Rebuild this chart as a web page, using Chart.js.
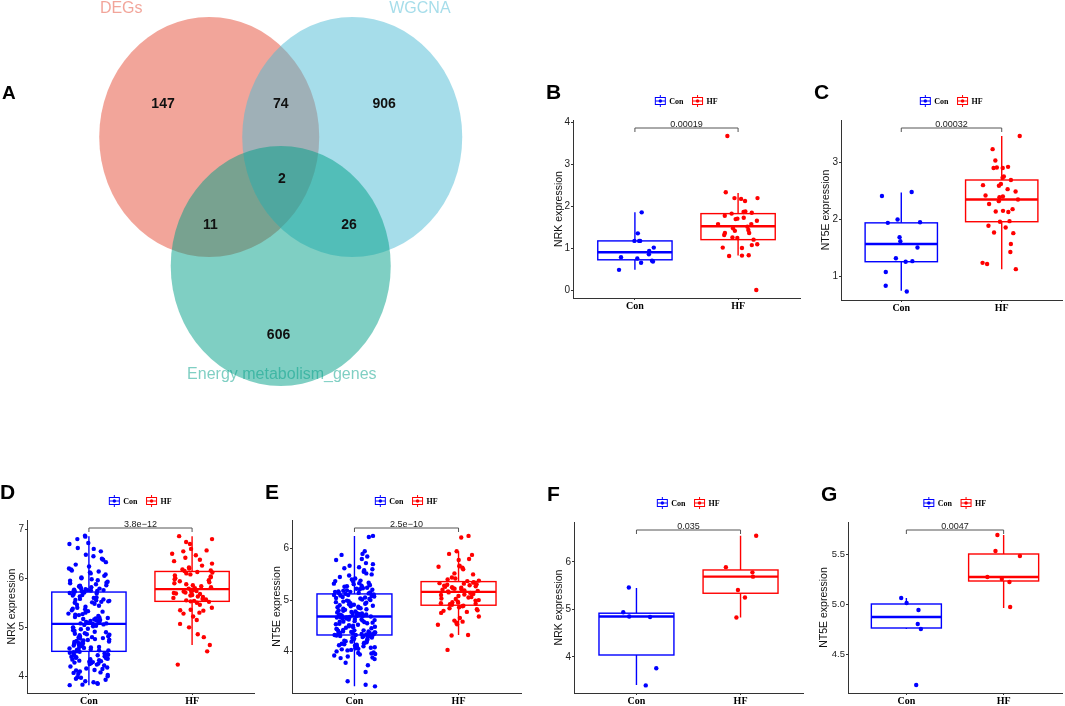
<!DOCTYPE html>
<html>
<head>
<meta charset="utf-8">
<script src="https://cdn.jsdelivr.net/npm/chart.js@4.4.1/dist/chart.umd.min.js"></script>
<style>
html, body { margin: 0; padding: 0; background: #fff; }
#wrap { position: relative; width: 1065px; height: 706px; overflow: hidden; background: #fff; }
canvas { position: absolute; }
</style>
</head>
<body>
<div id="wrap"></div>
<script>
// ---- Venn (panel A)
const vennSets = ['DEGs', 'WGCNA', 'Energy metabolism_genes'];
const vennCounts = [147, 74, 906, 11, 2, 26, 606];   // DEGs, DEGs&WGCNA, WGCNA, DEGs&Energy, all, WGCNA&Energy, Energy

// ---- box plots
const groups = ['Con', 'HF'];

// B: NRK, small set
const bCon = [1.85, 1.35, 1.17, 1.17, 1.17, 1.01, 0.93, 0.85, 0.78, 0.75, 0.70, 0.68, 0.65, 0.48];
const bHF = [3.67, 2.33, 2.19, 2.17, 2.19, 2.12, 1.86, 1.87, 1.82, 1.84, 1.72, 1.69, 1.70, 1.77, 1.65, 1.57, 1.57, 1.51,
  1.47, 1.41, 1.36, 1.36, 1.43, 1.31, 1.25, 1.20, 1.24, 1.09, 1.07, 1.01, 1.00, 0.81, 0.83, 0.82, 0.00];
const bConBox = [0.48, 0.72, 0.90, 1.17, 1.85];
const bHFBox = [0.82, 1.20, 1.52, 1.82, 2.31];
const bTicks = [0, 1, 2, 3, 4];

// C: NT5E, small set
const cCon = [2.48, 2.41, 2.00, 1.95, 1.94, 1.69, 1.62, 1.51, 1.32, 1.27, 1.26, 1.08, 0.84, 0.74];
const cHF = [3.46, 3.23, 3.03, 2.90, 2.90, 2.92, 2.91, 2.75, 2.73, 2.69, 2.62, 2.60, 2.59, 2.53, 2.49, 2.40, 2.42, 2.39,
  2.32, 2.35, 2.27, 2.18, 2.13, 2.15, 2.14, 1.97, 1.96, 1.89, 1.86, 1.77, 1.76, 1.57, 1.43, 1.24, 1.22, 1.13];
const cConBox = [0.75, 1.26, 1.57, 1.94, 2.47];
const cHFBox = [1.13, 1.96, 2.35, 2.69, 3.46];
const cTicks = [1, 2, 3];

// D: NRK, large set
const dCon = [6.87, 6.85, 6.80, 6.72, 6.70, 6.62, 6.60, 6.55, 6.48, 6.45, 6.40, 6.38, 6.33, 6.28, 6.24, 6.20, 6.18, 6.16,
  6.14, 6.12, 6.10, 6.08, 6.05, 6.02, 6.00, 5.98, 5.96, 5.95, 5.93, 5.91, 5.90, 5.88, 5.86, 5.85, 5.84, 5.83, 5.82, 5.81,
  5.80, 5.79, 5.78, 5.77, 5.76, 5.76, 5.75, 5.74, 5.74, 5.73, 5.73, 5.72,
  5.71, 5.70, 5.69, 5.68, 5.66, 5.65, 5.63, 5.61, 5.60, 5.58, 5.57, 5.56, 5.55, 5.54, 5.53, 5.52, 5.51, 5.50, 5.48, 5.46,
  5.44, 5.42, 5.40, 5.38, 5.37, 5.35, 5.33, 5.32, 5.30, 5.28, 5.27, 5.26, 5.25, 5.23, 5.21, 5.20, 5.19, 5.18, 5.17, 5.16,
  5.15, 5.14, 5.13, 5.12, 5.11, 5.10, 5.09, 5.08, 5.08, 5.07,
  5.06, 5.05, 5.03, 5.02, 5.00, 4.99, 4.97, 4.96, 4.94, 4.93, 4.91, 4.90, 4.88, 4.87, 4.86, 4.85, 4.84, 4.82, 4.81, 4.80,
  4.79, 4.78, 4.77, 4.76, 4.75, 4.74, 4.73, 4.72, 4.71, 4.70, 4.69, 4.68, 4.67, 4.66, 4.65, 4.64, 4.63, 4.62, 4.61, 4.60,
  4.59, 4.58, 4.57, 4.56, 4.55, 4.54, 4.53, 4.53, 4.52, 4.51,
  4.50, 4.49, 4.48, 4.47, 4.46, 4.45, 4.44, 4.43, 4.42, 4.41, 4.40, 4.39, 4.38, 4.37, 4.36, 4.35, 4.34, 4.33, 4.32, 4.31,
  4.30, 4.29, 4.28, 4.27, 4.26, 4.25, 4.24, 4.22, 4.20, 4.18, 4.16, 4.15, 4.13, 4.12, 4.10, 4.08, 4.07, 4.05, 4.03, 4.00,
  3.98, 3.97, 3.95, 3.93, 3.90, 3.88, 3.86, 3.85, 3.83, 3.82];
const dHF = [6.86, 6.80, 6.74, 6.70, 6.60, 6.57, 6.55, 6.50, 6.47, 6.42, 6.38, 6.35, 6.30, 6.26, 6.22, 6.20, 6.18, 6.16, 6.15,
  6.13, 6.12, 6.10, 6.08, 6.06, 6.04, 6.02, 6.00, 5.98, 5.96, 5.94, 5.92, 5.90, 5.88, 5.86, 5.84, 5.82, 5.80, 5.79,
  5.77, 5.76, 5.75, 5.74, 5.73, 5.72, 5.71, 5.70, 5.69, 5.68, 5.66, 5.65, 5.63, 5.62, 5.60, 5.58, 5.57, 5.55, 5.54,
  5.52, 5.50, 5.46, 5.40, 5.36, 5.35, 5.34, 5.30, 5.28, 5.22, 5.15, 5.07, 5.00, 4.86, 4.80, 4.64, 4.51, 4.24, 5.53];
const dConBox = [3.82, 4.51, 5.07, 5.72, 6.86];
const dHFBox = [4.64, 5.53, 5.78, 6.14, 6.86];
const dTicks = [4, 5, 6, 7];

// E: NT5E, large set
const eCon = [6.25, 6.23, 5.95, 5.90, 5.88, 5.85, 5.80, 5.78, 5.72, 5.70, 5.67, 5.64, 5.62, 5.60, 5.58, 5.55, 5.52, 5.50,
  5.48, 5.45, 5.42, 5.40, 5.38, 5.37, 5.36, 5.34, 5.33, 5.32, 5.31, 5.30, 5.29, 5.28, 5.27, 5.26, 5.25, 5.24, 5.23, 5.22,
  5.21, 5.20, 5.19, 5.18, 5.17, 5.16, 5.16, 5.15, 5.14, 5.14, 5.13, 5.12,
  5.11, 5.10, 5.10, 5.09, 5.08, 5.07, 5.06, 5.05, 5.04, 5.03, 5.02, 5.01, 5.00, 4.99, 4.98, 4.97, 4.96, 4.95, 4.94, 4.93,
  4.92, 4.91, 4.90, 4.89, 4.88, 4.87, 4.86, 4.85, 4.84, 4.83, 4.82, 4.81, 4.80, 4.79, 4.78, 4.77, 4.76, 4.75, 4.74, 4.73,
  4.73, 4.72, 4.72, 4.71, 4.71, 4.70, 4.70, 4.69, 4.69, 4.68,
  4.67, 4.67, 4.66, 4.66, 4.65, 4.64, 4.64, 4.63, 4.62, 4.62, 4.61, 4.60, 4.59, 4.58, 4.58, 4.57, 4.56, 4.55, 4.54, 4.53,
  4.52, 4.51, 4.50, 4.49, 4.48, 4.47, 4.46, 4.45, 4.44, 4.43, 4.42, 4.41, 4.41, 4.40, 4.39, 4.39, 4.38, 4.37, 4.37, 4.36,
  4.36, 4.35, 4.35, 4.34, 4.34, 4.33, 4.33, 4.33, 4.32, 4.32,
  4.31, 4.31, 4.30, 4.30, 4.29, 4.28, 4.28, 4.27, 4.26, 4.25, 4.24, 4.23, 4.22, 4.21, 4.20, 4.19, 4.18, 4.17, 4.16, 4.15,
  4.14, 4.13, 4.12, 4.11, 4.10, 4.09, 4.08, 4.07, 4.06, 4.05, 4.04, 4.03, 4.02, 4.00, 3.98, 3.97, 3.96, 3.95, 3.94, 3.92,
  3.90, 3.88, 3.87, 3.85, 3.78, 3.73, 3.60, 3.42, 3.35, 3.32];
const eHF = [6.25, 6.22, 5.95, 5.90, 5.88, 5.80, 5.78, 5.67, 5.66, 5.65, 5.63, 5.60, 5.52, 5.50, 5.44, 5.42, 5.40, 5.38, 5.37,
  5.35, 5.34, 5.33, 5.32, 5.31, 5.30, 5.29, 5.28, 5.27, 5.26, 5.25, 5.24, 5.23, 5.22, 5.21, 5.20, 5.19, 5.18, 5.17,
  5.15, 5.14, 5.12, 5.11, 5.10, 5.08, 5.06, 5.05, 5.03, 5.02, 5.00, 4.99, 4.97, 4.96, 4.95, 4.94, 4.93, 4.92, 4.91,
  4.89, 4.88, 4.86, 4.84, 4.82, 4.80, 4.79, 4.77, 4.75, 4.68, 4.65, 4.60, 4.58, 4.56, 4.53, 4.52, 4.32, 4.31, 4.03];
const eConBox = [3.32, 4.32, 4.68, 5.12, 6.25];
const eHFBox = [4.32, 4.90, 5.16, 5.36, 5.95];
const eTicks = [4, 5, 6];

// F: NRK, tiny set
const fCon = [5.46, 4.94, 4.84, 4.85, 3.76, 3.40];
const fHF = [6.55, 5.89, 5.78, 5.69, 5.41, 5.25, 4.83];
const fConBox = [3.41, 4.04, 4.85, 4.92, 5.45];
const fHFBox = [4.83, 5.34, 5.69, 5.83, 6.55];
const fTicks = [4, 5, 6];

// G: NT5E, tiny set
const gCon = [5.06, 5.01, 4.94, 4.80, 4.75, 4.19];
const gHF = [5.69, 5.53, 5.48, 5.27, 5.25, 5.22, 4.97];
const gConBox = [4.75, 4.76, 4.87, 5.00, 5.06];
const gHFBox = [4.96, 5.23, 5.27, 5.50, 5.69];
const gTicks = [4.5, 5.0, 5.5];
const gTickLabels = ['4.5', '5.0', '5.5'];

const SANS = "'Liberation Sans', Arial, sans-serif";
const SERIF = "'Liberation Serif', 'Times New Roman', serif";
const BLUE = '#0000FF', RED = '#FF0000';

function addCanvas(x, y, w, h) {
  const c = document.createElement('canvas');
  c.width = w; c.height = h;
  c.style.left = x + 'px'; c.style.top = y + 'px';
  c.style.width = w + 'px'; c.style.height = h + 'px';
  document.getElementById('wrap').appendChild(c);
  return c;
}

// ---------- panel A
const vennCenters = [[-0.65, 0.5375], [0.65, 0.5375], [0, -0.5375]];
const vennColors = ['#E64B35', '#4DBBD5', '#00A087'];
const vennNamePos = [[-1.45, 1.604], [1.265, 1.604], [0.01, -1.446]];
const vennCountPos = [[-1.07, 0.81], [0, 0.81], [0.94, 0.81], [-0.64, -0.2], [0.01, 0.19], [0.62, -0.2], [-0.02, -1.11]];

const vennPlugin = {
  id: 'venn',
  afterDatasetsDraw(chart) {
    const ctx = chart.ctx, x = chart.scales.x, y = chart.scales.y;
    ctx.save();
    vennCenters.forEach((c, i) => {
      const cx = x.getPixelForValue(c[0]), cy = y.getPixelForValue(c[1]);
      const rx = x.getPixelForValue(c[0] + 1) - cx, ry = cy - y.getPixelForValue(c[1] + 1);
      ctx.globalAlpha = 0.5;
      ctx.fillStyle = vennColors[i];
      ctx.beginPath();
      ctx.ellipse(cx, cy, rx, ry, 0, 0, Math.PI * 2);
      ctx.fill();
    });
    ctx.textAlign = 'center';
    ctx.textBaseline = 'middle';
    ctx.font = '16px ' + SANS;
    vennSets.forEach((s, i) => {
      ctx.globalAlpha = 0.5;
      ctx.fillStyle = vennColors[i];
      ctx.fillText(s, x.getPixelForValue(vennNamePos[i][0]), y.getPixelForValue(vennNamePos[i][1]));
    });
    ctx.globalAlpha = 1;
    ctx.fillStyle = '#111';
    ctx.font = 'bold 14px ' + SANS;
    vennCounts.forEach((n, i) => {
      ctx.fillText(String(n), x.getPixelForValue(vennCountPos[i][0]), y.getPixelForValue(vennCountPos[i][1]));
    });
    ctx.textAlign = 'left';
    ctx.textBaseline = 'alphabetic';
    ctx.font = 'bold 19px ' + SANS;
    ctx.fillStyle = '#000';
    ctx.fillText('A', 2, 99);
    ctx.restore();
  }
};

new Chart(addCanvas(0, 0, 520, 395), {
  type: 'scatter',
  data: { datasets: [{ data: [], pointRadius: 0 }] },
  options: {
    responsive: false,
    animation: false,
    layout: { padding: 0, autoPadding: false },
    scales: {
      x: { display: false, min: -2.552, max: 2.175 },
      y: { display: false, min: -1.6125, max: 1.679 }
    },
    plugins: { legend: { display: false }, tooltip: { enabled: false } }
  },
  plugins: [vennPlugin]
});

// ---------- box panels
// horizontal jitter (width 0.2 each side), deterministic hash of the index
function jitter(i, seed) {
  const s = Math.sin((i + 1) * 12.9898 + seed * 78.233) * 43758.5453;
  return (s - Math.floor(s) - 0.5) * 0.4;
}

const M = 32;   // room left of each y axis

function boxPanel(p) {
  const l = p.area[0], r = p.area[1], t = p.area[2], b = p.area[3];
  const cv = addCanvas(l - M, t - 45, r - l + M + 3, b - t + 67);
  const stats = [p.conBox, p.hfBox];
  const colors = [BLUE, RED];
  const labels = p.tickLabels || p.ticks.map(String);

  const boxes = {
    id: 'boxes',
    beforeDatasetsDraw(chart) {
      const ctx = chart.ctx, x = chart.scales.x, y = chart.scales.y;
      ctx.save();
      stats.forEach((s, i) => {
        const xc = x.getPixelForValue(i + 1);
        const hw = x.getPixelForValue(i + 1 + 0.36) - xc;
        const py = s.map(v => y.getPixelForValue(v));
        ctx.strokeStyle = colors[i];
        ctx.lineWidth = 1.4;
        ctx.beginPath();
        ctx.moveTo(xc, py[4]); ctx.lineTo(xc, py[3]);
        ctx.moveTo(xc, py[1]); ctx.lineTo(xc, py[0]);
        ctx.stroke();
        ctx.strokeRect(xc - hw, py[3], 2 * hw, py[1] - py[3]);
        ctx.lineWidth = 2.4;
        ctx.beginPath();
        ctx.moveTo(xc - hw, py[2]); ctx.lineTo(xc + hw, py[2]);
        ctx.stroke();
      });
      ctx.restore();
    }
  };

  const deco = {
    id: 'deco',
    afterDraw(chart) {
      const ctx = chart.ctx, a = chart.chartArea, x = chart.scales.x;
      ctx.save();
      // panel letter
      ctx.fillStyle = '#000';
      ctx.font = 'bold 21px ' + SANS;
      ctx.textBaseline = 'alphabetic';
      ctx.textAlign = 'left';
      ctx.fillText(p.letter, a.left - 27, a.top - 21);
      // y title
      ctx.save();
      ctx.translate(a.left - p.titleOff, (a.top + a.bottom) / 2);
      ctx.rotate(-Math.PI / 2);
      ctx.textAlign = 'center';
      ctx.textBaseline = 'middle';
      ctx.font = '10.5px ' + SANS;
      ctx.fillStyle = '#111';
      ctx.fillText(p.yTitle, 0, 0);
      ctx.restore();
      // legend
      ctx.font = 'bold 8px ' + SERIF;
      const w0 = ctx.measureText(groups[0]).width, w1 = ctx.measureText(groups[1]).width;
      const total = 10 + 4 + w0 + 9 + 10 + 4 + w1;
      let lx = (a.left + a.right) / 2 - total / 2;
      const ly = a.top - 19;
      [w0, w1].forEach((w, i) => {
        const cx = lx + 5;
        ctx.strokeStyle = colors[i];
        ctx.fillStyle = colors[i];
        ctx.lineWidth = 1;
        ctx.strokeRect(cx - 5, ly - 3.5, 10, 7);
        ctx.beginPath();
        ctx.moveTo(cx, ly - 6); ctx.lineTo(cx, ly - 3.5);
        ctx.moveTo(cx, ly + 3.5); ctx.lineTo(cx, ly + 6);
        ctx.moveTo(cx - 5, ly); ctx.lineTo(cx + 5, ly);
        ctx.stroke();
        ctx.beginPath();
        ctx.arc(cx, ly, 1.7, 0, Math.PI * 2);
        ctx.fill();
        ctx.fillStyle = '#000';
        ctx.textAlign = 'left';
        ctx.textBaseline = 'middle';
        ctx.fillText(groups[i], lx + 14, ly + 0.5);
        lx += 14 + w + 9;
      });
      // p-value bracket
      const x1 = x.getPixelForValue(1), x2 = x.getPixelForValue(2), by = a.top + 8;
      ctx.strokeStyle = '#555';
      ctx.lineWidth = 1;
      ctx.beginPath();
      ctx.moveTo(x1, by + 4); ctx.lineTo(x1, by); ctx.lineTo(x2, by); ctx.lineTo(x2, by + 4);
      ctx.stroke();
      ctx.fillStyle = '#222';
      ctx.font = '9px ' + SANS;
      ctx.textAlign = 'center';
      ctx.textBaseline = 'alphabetic';
      ctx.fillText(p.pValue, (x1 + x2) / 2, by - 1.5);
      ctx.restore();
    }
  };

  const pts = (vals, gi, seed) => vals.map((v, i) => ({ x: gi + 1 + jitter(i, seed), y: v }));

  new Chart(cv, {
    type: 'scatter',
    data: {
      datasets: [
        { label: groups[0], data: pts(p.con, 0, p.seed), pointBackgroundColor: BLUE, pointBorderWidth: 0, pointRadius: 2.2 },
        { label: groups[1], data: pts(p.hf, 1, p.seed + 0.37), pointBackgroundColor: RED, pointBorderWidth: 0, pointRadius: 2.2 }
      ]
    },
    options: {
      responsive: false,
      animation: false,
      events: [],
      layout: { padding: { left: 0, top: 45, right: 3, bottom: 0 }, autoPadding: false },
      plugins: { legend: { display: false }, tooltip: { enabled: false } },
      scales: {
        x: {
          type: 'linear', min: 0.4, max: 2.6, bounds: 'data',
          afterBuildTicks: s => { s.ticks = groups.map((g, i) => ({ value: i + 1 })); },
          afterFit: s => { s.height = 22; },
          ticks: {
            callback: v => groups[Math.round(v) - 1],
            autoSkip: false, maxRotation: 0, padding: 0,
            color: '#000', font: { family: SERIF, size: 10, weight: 'bold' }
          },
          grid: { drawOnChartArea: false, drawTicks: true, tickLength: 2, color: '#333' },
          border: { display: true, color: '#333', width: 1 }
        },
        y: {
          min: p.yRange[0], max: p.yRange[1], bounds: 'data',
          afterBuildTicks: s => { s.ticks = p.ticks.map(v => ({ value: v })); },
          afterFit: s => { s.width = M; },
          ticks: {
            callback: (v, i) => labels[i],
            autoSkip: false, padding: 1,
            color: '#222', font: { family: SANS, size: p.tickSize || 10 }
          },
          grid: { drawOnChartArea: false, drawTicks: true, tickLength: 2, color: '#333' },
          border: { display: true, color: '#333', width: 1 }
        }
      }
    },
    plugins: [boxes, deco]
  });
}

boxPanel({ letter: 'B', yTitle: 'NRK expression', pValue: '0.00019', area: [573, 800, 120, 298], titleOff: 14, seed: 0.11,
  yRange: [-0.19, 4.05], ticks: bTicks, con: bCon, hf: bHF, conBox: bConBox, hfBox: bHFBox });
boxPanel({ letter: 'C', yTitle: 'NT5E expression', pValue: '0.00032', area: [841, 1062, 120, 300], titleOff: 15, seed: 0.29,
  yRange: [0.59, 3.74], ticks: cTicks, con: cCon, hf: cHF, conBox: cConBox, hfBox: cHFBox });
boxPanel({ letter: 'D', yTitle: 'NRK expression', pValue: '3.8e\u221212', area: [27, 254, 520, 693], titleOff: 15, seed: 0.47,
  yRange: [3.66, 7.19], ticks: dTicks, con: dCon, hf: dHF, conBox: dConBox, hfBox: dHFBox });
boxPanel({ letter: 'E', yTitle: 'NT5E expression', pValue: '2.5e\u221210', area: [292, 521, 520, 693], titleOff: 15, seed: 0.63,
  yRange: [3.19, 6.56], ticks: eTicks, con: eCon, hf: eHF, conBox: eConBox, hfBox: eHFBox });
boxPanel({ letter: 'F', yTitle: 'NRK expression', pValue: '0.035', area: [574, 803, 522, 693], titleOff: 15, seed: 0.81,
  yRange: [3.24, 6.84], ticks: fTicks, con: fCon, hf: fHF, conBox: fConBox, hfBox: fHFBox });
boxPanel({ letter: 'G', yTitle: 'NT5E expression', pValue: '0.0047', area: [848, 1062, 522, 693], titleOff: 24, seed: 0.93,
  tickSize: 9.5, yRange: [4.11, 5.82], ticks: gTicks, tickLabels: gTickLabels, con: gCon, hf: gHF, conBox: gConBox, hfBox: gHFBox });
</script>
</body>
</html>
